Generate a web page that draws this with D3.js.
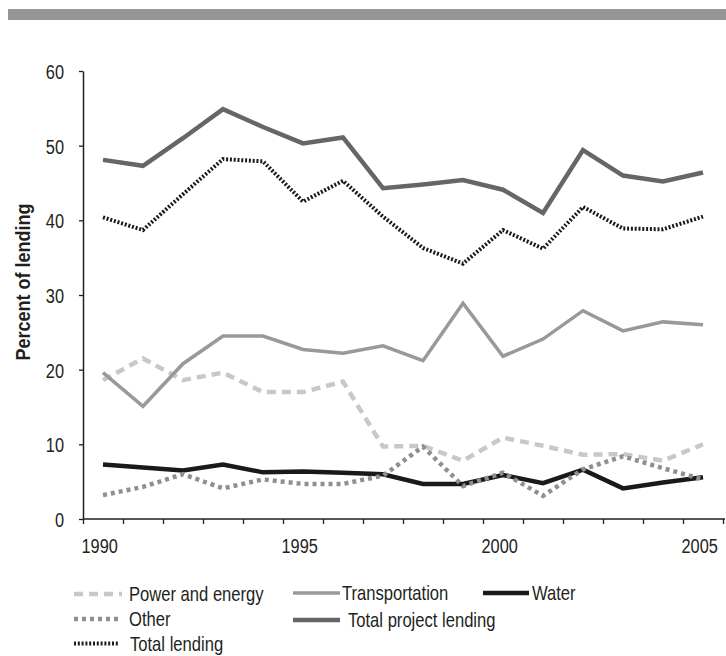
<!DOCTYPE html>
<html>
<head>
<meta charset="utf-8">
<script src="https://cdn.jsdelivr.net/npm/d3@7"></script>
<style>
  html, body { margin: 0; padding: 0; background: #fff; }
  svg { display: block; }
  text { font-family: "Liberation Sans", Arial, sans-serif; fill: #231f20; }
</style>
</head>
<body>
<svg id="chart" width="726" height="656"></svg>
<script>
// ---- data ----
const years = [1990,1991,1992,1993,1994,1995,1996,1997,1998,1999,2000,2001,2002,2003,2004,2005];
const powerEnergy        = [18.6,21.5,18.6,19.6,17.0,17.0,18.4,9.7,9.8,7.8,10.9,9.8,8.6,8.7,7.8,10.0];
const transportation     = [19.6,15.1,20.8,24.5,24.5,22.7,22.2,23.2,21.2,28.9,21.8,24.1,27.9,25.2,26.4,26.0];
const water              = [7.3,6.9,6.5,7.3,6.25,6.35,6.2,6.0,4.7,4.7,5.9,4.8,6.6,4.1,4.9,5.6];
const other              = [3.2,4.3,6.0,4.1,5.3,4.7,4.7,5.8,9.7,4.4,6.2,3.1,6.65,8.4,6.8,5.3];
const totalProject       = [48.1,47.3,51.0,54.9,52.5,50.3,51.1,44.3,44.8,45.4,44.1,41.0,49.4,46.0,45.2,46.4];
const totalLending       = [40.4,38.7,43.5,48.2,47.9,42.5,45.3,40.5,36.3,34.2,38.7,36.2,41.8,38.9,38.8,40.5];
const yTicks = [0,10,20,30,40,50,60];
const xLabelYears = [1990,1995,2000,2005];
const yLabel = "Percent of lending";

// ---- styles per series ----
const series = [
  {name:"Power and energy",     values:powerEnergy,    color:"#c8c8c8", width:4.5, dash:"9,6"},
  {name:"Other",                values:other,          color:"#8f8f8f", width:4.5, dash:"4,4"},
  {name:"Total lending",        values:totalLending,   color:"#1a1a1a", width:4,   dash:"2,1.8"},
  {name:"Transportation",       values:transportation, color:"#999999", width:3.5, dash:null},
  {name:"Total project lending",values:totalProject,   color:"#666666", width:4.5, dash:null},
  {name:"Water",                values:water,          color:"#1a1a1a", width:4.5, dash:null}
];
const drawOrder = ["Power and energy","Transportation","Total project lending","Total lending","Water","Other"];

const svg = d3.select("#chart");

// top band
svg.append("rect").attr("x",8).attr("y",9).attr("width",718).attr("height",11).attr("fill","#959595");

const x = d3.scaleLinear().domain([1990, 2006]).range([83, 723]);
const y = d3.scaleLinear().domain([0, 60]).range([519, 71]);

// axes
const xAxis = d3.axisBottom(x)
  .tickValues(d3.range(1990, 2007))
  .tickSize(5)
  .tickSizeOuter(0)
  .tickFormat(d => xLabelYears.includes(d) ? String(d) : "");
const gx = svg.append("g").attr("transform","translate(0,519)").call(xAxis);
gx.select(".domain").attr("stroke","#231f20").attr("stroke-width",1.5).attr("d","M83,0H725");
gx.selectAll(".tick line").attr("stroke","#231f20").attr("stroke-width",1.3);
gx.selectAll(".tick text")
  .attr("text-anchor","start").attr("x",0).attr("y",0).attr("dy",null)
  .attr("transform","translate(-2,34) scale(0.78,1)")
  .style("font-size","21px").style("font-family",null).attr("fill","#231f20");

const yAxis = d3.axisLeft(y).tickValues(yTicks).tickSize(4).tickSizeOuter(0).tickPadding(15);
const gy = svg.append("g").attr("transform","translate(83,0)").call(yAxis);
gy.select(".domain").attr("stroke","#231f20").attr("stroke-width",1.5);
gy.selectAll(".tick line").attr("stroke","#231f20").attr("stroke-width",1.3);
gy.selectAll(".tick text")
  .attr("x",0).attr("dy","0.36em")
  .attr("transform","translate(-19,0) scale(0.78,1)")
  .style("font-size","21px").style("font-family",null).attr("fill","#231f20");

// y label
svg.append("text")
  .attr("transform","translate(30,282) rotate(-90) scale(0.9,1)")
  .attr("text-anchor","middle")
  .style("font-size","20px").style("font-weight","bold")
  .text(yLabel);

// lines
const line = d3.line().x((d,i) => x(years[i] + 0.5)).y(d => y(d)).curve(d3.curveLinear);
drawOrder.forEach(n => {
  const s = series.find(t => t.name === n);
  svg.append("path")
    .datum(s.values)
    .attr("fill","none")
    .attr("stroke", s.color)
    .attr("stroke-width", s.width)
    .attr("stroke-dasharray", s.dash)
    .attr("stroke-linejoin","miter")
    .attr("d", line);
});

// legend
const legendPos = [
  {name:"Power and energy",      x1:74,  x2:122, tx:129, y:594},
  {name:"Other",                 x1:74,  x2:122, tx:129, y:619},
  {name:"Total lending",         x1:74,  x2:119, tx:130, y:643.5},
  {name:"Transportation",        x1:293, x2:340, tx:342, y:593},
  {name:"Total project lending", x1:293, x2:340, tx:348, y:620},
  {name:"Water",                 x1:483, x2:529, tx:532, y:593}
];
const lg = svg.append("g");
legendPos.forEach(p => {
  const s = series.find(t => t.name === p.name);
  lg.append("line").attr("x1",p.x1).attr("x2",p.x2).attr("y1",p.y).attr("y2",p.y)
    .attr("stroke",s.color).attr("stroke-width",s.width).attr("stroke-dasharray",s.dash);
  lg.append("text").attr("x",0).attr("y",0).attr("dy","0.36em")
    .attr("transform",`translate(${p.tx},${p.y}) scale(0.83,1)`)
    .style("font-size","20px").text(s.name);
});
</script>
</body>
</html>
